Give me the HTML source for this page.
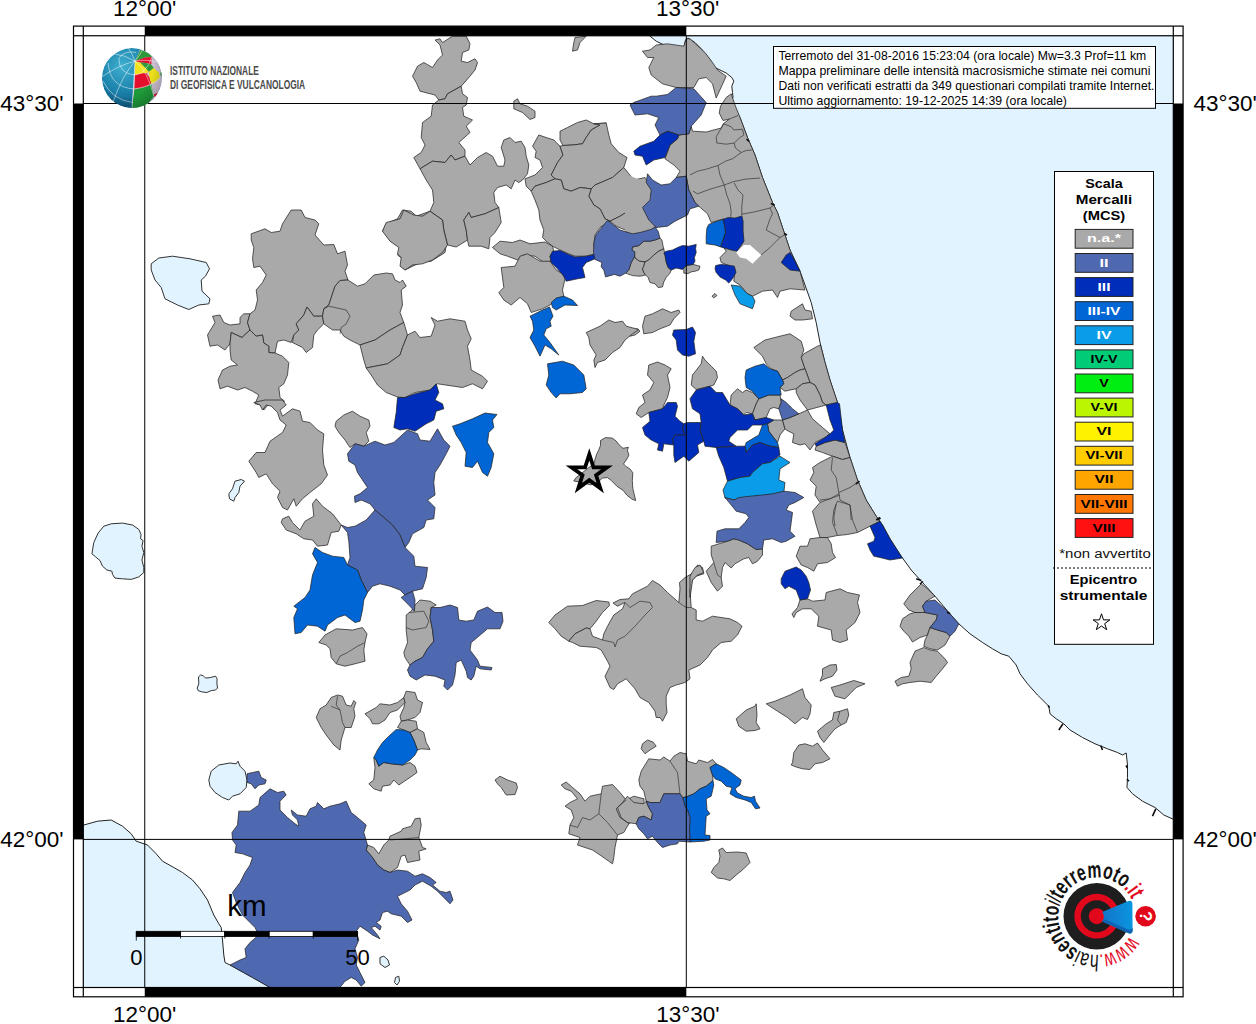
<!DOCTYPE html>
<html><head><meta charset="utf-8"><title>Mappa</title>
<style>
html,body{margin:0;padding:0;background:#fff;}
body{width:1256px;height:1024px;overflow:hidden;font-family:"Liberation Sans",sans-serif;}
svg{display:block;}
.m polygon,.m path{stroke:#262626;stroke-width:0.75;stroke-linejoin:round;}
.m polyline{fill:none;stroke:#333;stroke-width:0.7;}
text{font-family:"Liberation Sans",sans-serif;}
</style></head><body>
<svg width="1256" height="1024" viewBox="0 0 1256 1024">
<defs><clipPath id="mapclip"><rect x="83.3" y="35.75" width="1090" height="951.75"/></clipPath></defs>
<rect width="1256" height="1024" fill="#fff"/>

<g class="m" clip-path="url(#mapclip)">
<polygon fill="#e0f3ff" style="stroke:#222;stroke-width:1" points="649.2,35.5 656.2,41.2 665,45.5 673.8,48.5 681.2,49.5 684.2,46.2 685.5,40 688,38 695,42.5 701.2,48.8 706.2,55 711.2,61.2 713.8,67 720,70 726.2,73 731.8,77.5 733.8,81.2 731.8,86.2 732.5,92.5 733,97.5 731.8,99.5 735,107.5 740,117.5 747.5,137.5 755,155 762.5,177.5 772.5,202.5 777.5,212.5 782.5,227.5 790,250 800,271.2 805,285 811.2,302.5 816.2,322.5 820,342.5 825,362.5 830,380 837.5,402.5 842.5,430 850,457.5 857.5,480 866.2,500 876.2,516.2 876.2,516.2 882.5,525 890,538.8 901.2,556.2 911.2,570 922.5,582.5 935,596.2 948.8,612.5 958.8,623.8 970,633.8 982.5,642.5 992.5,648.8 1001.2,653.8 1008.8,656.2 1016.2,665 1020,673.8 1027.5,683.8 1037.5,695 1048.8,706.2 1050,713.8 1056.2,718.8 1063.8,723.8 1070,730 1082.5,737.5 1095,743.8 1107.5,748.8 1117.5,752.5 1122.5,755 1126.2,753 1127.5,765 1127.5,777.5 1127,787.5 1132.5,793.8 1142.5,801.2 1155,807.5 1163.8,815 1173.8,819.5 1177.5,821.2 1180,821.2 1180,30 649.2,30"/>
<polygon fill="#e0f3ff" style="stroke:#222;stroke-width:1" points="80,825 83.8,825 97.5,821.2 111.2,820 122.5,826.2 131.2,833.8 136.2,841.2 147.5,845 156.2,853.8 162.5,861.2 173.8,867.5 182.5,872.5 192.5,880 200,888.8 207.5,900 213.8,915 218.8,923.8 221.2,927.5 222.5,940 223.8,955 225,962.5 230,965 252.5,977.5 272.5,988.8 80,988.8"/>
<polygon fill="#e0f3ff" style="stroke:#333;stroke-width:1" points="151.2,263.8 158.8,258 172.5,256.2 190,258.8 206.2,262.5 209.5,268.8 205.5,276.2 201.2,280 202,291.2 210,298.8 208.8,303.8 198.8,305 188.8,309.5 177.5,305 165,298.8 161.2,287.5 155,280 151.2,270"/>
<polygon fill="#e0f3ff" style="stroke:#333;stroke-width:1" points="235,481.2 241.2,479.5 244.5,481.2 240,486.2 238.8,492.5 235,497.5 233.8,501.2 229.5,498.8 228.8,493.8 232.5,488.8"/>
<polygon fill="#e0f3ff" style="stroke:#333;stroke-width:1" points="208.8,780 211.2,771.2 218.8,765 230,763 236.2,763.8 238,761.2 240,766.2 245,771.2 247,780 246.2,787.5 240,793.8 232.5,796.2 228.8,800 222.5,797.5 215,792.5 210,786.2"/>
<polygon fill="#e0f3ff" style="stroke:#333;stroke-width:1" points="380,957.5 383.8,956.2 388,960 389.5,965 385,967.5 380,963.8"/>
<polygon fill="#e0f3ff" style="stroke:#333;stroke-width:1" points="395.5,977.5 398.8,976.2 399.5,981.2 397,985 394.5,982.5"/>
<polygon fill="#e0f3ff" style="stroke:#333;stroke-width:1" points="91.9,553.8 93.8,542.5 98.1,533.1 103.8,526.2 111.2,523.8 122.5,523.1 132.5,525 138.8,529.4 141,534.4 140.6,538.8 143.1,540.6 141.9,546.2 143.8,552.5 141.9,560 143.8,567.5 143.8,572.5 138.8,576.9 131.2,579.4 122.5,578.8 115,578.1 112.5,574.4 111.9,571.2 106.9,570 102.5,566.2 100,560.6 95.6,556.9"/>
<polygon fill="#e0f3ff" style="stroke:#333;stroke-width:1" points="198.5,676.9 200.6,675 203.1,675.6 205.6,678.1 210.6,677.5 215.6,676.2 217.1,678.8 216.9,683.1 217.5,688.1 215.6,690 211.2,690.6 206.9,692.5 201.9,691.9 198.1,690.6 197.2,688.1 198.8,683.8"/>
<polygon fill="#a9a9a9" points="212.5,316.2 220,315 223.8,322.5 230,325 240,323.8 240,317.5 243.8,313.8 250,313.8 247.5,322.5 250,330 242,337.5 231.2,332.5 230,343.8 225,350 217.5,345 210,346.2 207.5,335 215,322.5"/>
<polygon fill="#a9a9a9" points="251.2,233.8 265,228.8 271.2,232.5 280,231.2 282.5,223.8 291.2,210 301.2,210 305,217.5 315,220 318.8,223.8 315,235 323.8,245 333.8,244.5 337.5,253.8 345,251.2 347.5,265 345,271.2 348,280 340,280.5 335,286.2 328.8,305 323.8,308.8 322.5,316.2 313.8,316.2 307,307 303.8,315 296.2,323.8 298.8,330 293.8,335 291.2,342.5 283.8,340 277.5,341.2 275,353 268.8,352.5 268.8,346.2 263.8,343 262.5,335 256.2,336.2 250,330 247.5,322.5 250,313.8 255,310 257.5,300 256.2,290 262.5,282.5 266.2,275 260,266.2 253.8,267.5 252.5,258.8 253.8,247.5 251.2,240"/>
<polygon fill="#a9a9a9" points="307,307 313.8,316.2 322.5,316.2 323.8,323.8 317.5,330 313.8,335 312.5,347.5 306.2,352.5 302.5,347.5 292.5,342.5 293.8,335 298.8,330 296.2,323.8 303.8,315"/>
<polygon fill="#a9a9a9" points="231.2,332.5 242,337.5 250,330 256.2,336.2 262.5,335 263.8,343 268.8,346.2 268.8,352.5 275,353 282.5,356.2 288.8,362.5 287.5,375 283.8,383.8 278.8,387.5 280,397.5 284.5,401.2 278.8,405 270,402.5 263.8,410 261.2,405 255,403.8 258.8,395 252.5,391.2 245,387.5 237.5,390 227.5,386.2 220,388.8 218,380 222.5,370 230,366.2 237.5,365 231.2,360 230,350 230,343.8"/>
<polygon fill="#a9a9a9" points="348,280 357.5,286.2 365,283.8 373.8,275 386.2,273 392.5,273.8 395,280 400,282.5 402.5,280 406.2,286.2 401.2,290 402.5,305 400,312.5 403.8,322.5 390,330 375,340 360,345 350,340 343.8,336.2 340,330 332.5,330 323.8,323.8 322.5,316.2 323.8,308.8 328.8,305 335,286.2 340,280.5"/>
<polygon fill="#a9a9a9" points="403.8,322.5 407.5,335 402.5,347.5 400,355 387.5,363.8 366.2,368 363.8,360 360,345 375,340 390,330"/>
<polygon fill="#a9a9a9" points="382.5,231.2 386.2,223.8 397.5,218.8 402.5,210 411.2,211.2 416.2,216.2 430,211.2 442.5,220 446.2,235 446.2,245 445,252.5 431.2,261.2 420,262.5 405,270 401.2,266.2 402.5,258.8 397.5,255 401.2,248.8 393.8,240 390,235"/>
<polygon fill="#a9a9a9" points="435,40 440,38.8 442.5,42.5 452.5,36.2 466.2,36.2 470,43.8 468.8,50 462.5,52.5 461.2,61.2 467.5,62.5 475,58.8 477.5,62.5 475,70 470,76.2 461.2,86.2 447.5,93.8 445,98.8 438.8,100 435,95 420,91.2 416.2,82.5 412.5,76.2 417.5,66.2 423.8,62.5 432.5,67.5 437.5,60 442.5,55 440,45"/>
<polygon fill="#a9a9a9" points="461.2,86.2 462.5,93.8 467.5,97.5 466.2,105 462.5,107.5 463.8,116.2 472.5,120 466.2,126.2 470,132.5 458.8,142.5 465,150 465,156.2 455,160 451.2,155 445,162.5 432.5,161.2 420,168.8 413.8,157.5 421.2,152.5 425,145 421.2,137.5 422.5,122.5 431.2,116.2 432.5,105 438.8,100 445,98.8 447.5,93.8"/>
<polygon fill="#a9a9a9" points="420,168.8 432.5,161.2 445,162.5 451.2,155 455,160 465,156.2 470,165 477.5,157.5 486.2,152.5 492.5,156.2 497.5,166.2 503.8,166.2 505,160 501.2,147.5 503.8,140 510,137.5 515,142.5 521.2,141.2 525,147.5 526.2,156.2 528.8,165 527.5,173.8 522.5,180 518.8,182.5 515,180 511.2,188.8 506.2,185 497.5,187.5 493.8,192.5 495,202.5 498.8,207.5 485,213.8 471.2,217.5 468.8,212.5 463.8,220 466.2,230 467.5,240 456.2,247 447.5,245 443.8,230 442.5,220 430,211.2 433.8,202.5 432.5,190 426.2,180"/>
<polygon fill="#a9a9a9" points="498.8,207.5 501.2,222.5 495,232.5 490,237.5 488.8,248.8 481.2,246.2 468.8,246.2 467.5,240 466.2,230 463.8,220 468.8,212.5 471.2,217.5 485,213.8"/>
<polygon fill="#a9a9a9" points="430,211.2 442.5,220 443.8,230 447.5,245 442.5,252.5 432.5,260 422.5,263.8 412.5,265 405,270 400,266.2 401.2,257.5 397.5,253.8 398.8,247.5 390,241.2 382.5,231.2 386.2,222.5 400,218.8 403.8,210 413.8,215 422.5,216.2"/>
<polygon fill="#a9a9a9" points="513.8,101.2 517.5,98.8 520,103.8 527.5,106.2 535,111.2 535,117.5 530,119.5 522.5,112.5 513.8,108.8"/>
<polygon fill="#a9a9a9" points="575,37.5 586.2,36.2 580,42.5 577.5,50 572.5,51.2 573.8,42.5"/>
<polygon fill="#a9a9a9" points="532.5,146.2 538.8,135 546.2,137.5 553.8,140 560,146.2 563,155 557.5,162.5 551.2,175 555,178.8 546.2,182.5 535,186.2 531.2,191.2 526.2,186.2 525,178.8 535,175 542.5,167.5 540,160 535,157.5 536.2,151.2"/>
<polygon fill="#a9a9a9" points="560,131.2 567.5,127.5 577.5,122.5 586.2,120 593.8,123.8 606.2,123 600,125 591.2,130 586.2,137.5 582.5,143.8 572.5,145 563,145.5 560,140"/>
<polygon fill="#a9a9a9" points="593.8,123.8 606.2,123 608.8,135 611.2,143.8 618.8,152.5 627,157.5 623.8,167.5 612.5,177.5 595,185 591.2,188.8 580,187.5 571.2,191.2 563.8,188.8 561.2,180 555,178.8 551.2,175 557.5,162.5 563,155 560,146.2 563,145.5 572.5,145 582.5,143.8 586.2,137.5 591.2,130 600,125"/>
<polygon fill="#a9a9a9" points="623.8,167.5 633.8,180 645,177.5 650,185 651.2,193.8 643.8,203.8 630,210 620,216.2 610,221.2 605,218.8 600,208.8 593.8,205 588.8,196.2 591.2,188.8 595,185 612.5,177.5"/>
<polygon fill="#a9a9a9" points="643.8,203.8 651.2,221.2 656.2,227.5 647.5,231.2 635,233.8 625,230 616.2,226.2 610,221.2 620,216.2 630,210"/>
<polygon fill="#a9a9a9" points="555,178.8 561.2,180 563.8,188.8 571.2,191.2 580,187.5 591.2,188.8 588.8,196.2 593.8,205 600,208.8 605,218.8 610,221.2 600,227.5 595,235 593.8,245 595,253.8 586.2,256.2 575,256.2 568.8,253.8 560,250 552.5,246.2 546.2,241.2 542.5,237.5 543.8,230 540,220 538.8,210 535,200 531.2,191.2 535,186.2 546.2,182.5"/>
<polygon fill="#a9a9a9" points="492.5,247.5 500,241.2 512.5,242.5 520,240 530,243.8 545,242 552.5,246.2 553.8,251.2 550,256.2 551.2,261.2 543.8,262.5 535,256.2 523.8,255 517.5,260 507.5,256.2 500,253.8"/>
<polygon fill="#a9a9a9" points="642.5,51.2 650,50 656.2,45 667.5,43.8 683.8,46.2 686.2,38.8 690,38.8 705,52.5 712.5,62.5 717.5,70 726.2,76.2 716.2,98 712.5,83.8 706.2,77.5 698.8,78.8 693.8,87.5 676.2,87.5 662.5,83.8 651.2,75 648.8,67.5 653.8,57.5 647.5,57.5"/>
<polygon fill="#a9a9a9" points="731.2,93.8 735,105 740,117.5 747.5,137.5 755,155 762.5,177.5 772.5,202.5 777.5,212.5 782.5,227.5 790,250 800,271.2 805,290 790,288.8 780,291.2 777.5,297.5 772.5,290 762.5,291.2 752.5,296.2 747.5,293.8 740,285 733.8,281.2 735,270 730,266.2 721.2,262.5 720,257.5 726.2,251.2 721.2,243.8 723.8,218.8 711.2,222.5 707.5,213.8 698.8,206.2 695,202.5 688.8,190 686.2,176.2 676.2,177.5 680,171.2 673.8,165 665,158.8 670,145 677.5,138.8 678.8,135 688.8,133.8 691.2,126.2 692.5,131.2 706.2,132 721.2,128 723.2,123.8 729.5,119 723,120.5 719.2,113 720.5,106.2 726.2,97.5"/>
<polygon fill="#a9a9a9" style="stroke:none" points="625,173.8 646.2,182.5 651.2,190 650,200 642.5,207.5 648.8,220 656.2,227.5 653.8,227.5 645,233.8 625,235"/>
<polygon fill="#a9a9a9" points="645,316.2 652.5,313.8 662.5,308.8 671.2,312.5 678.8,310 680,312.5 673.8,318.8 670,325 660,328.8 652.5,332.5 643.8,333.8 642.5,326.2"/>
<polygon fill="#a9a9a9" points="630,330 637.5,328.8 640,331.2 635,335 630,336.2"/>
<polygon fill="#a9a9a9" points="791.2,311.2 802.5,303.8 805,310 811.2,311.2 812.5,318.8 802.5,320 795,320 790,316.2"/>
<polygon fill="#a9a9a9" points="753.8,347.5 765,340 780,336.2 790,333.8 801.2,341.2 803.8,350 801.2,357.5 805,368.8 800,370 795,372.5 787.5,377.5 782.5,380 777.5,371.2 771.2,368.8 766.2,363.8 762.5,356.2"/>
<polygon fill="#a9a9a9" points="803.8,353.8 817.5,346.2 820.5,345 825,362.5 830,380 837.5,402.5 826.2,405 822.5,402.5 820,395 815,385 810,382.5 805,368.8 801.2,357.5"/>
<polygon fill="#a9a9a9" points="782.5,380 787.5,377.5 795,372.5 800,370 805,368.8 810,382.5 802.5,383.8 796.2,388.8 790,390 785,391.2 780,387.5 783.8,383.8"/>
<polygon fill="#a9a9a9" points="802.5,383.8 810,382.5 815,385 820,395 822.5,402.5 826.2,405 807.5,410 800,400 796.2,392.5 796.2,388.8"/>
<polygon fill="#a9a9a9" points="731.2,395 737.5,388.8 742.5,392.5 746.2,390 752.5,392.5 758.8,398.8 756.2,403.8 752.5,413.8 746.2,412.5 743.8,415 737.5,408.8 730,405"/>
<polygon fill="#a9a9a9" points="758.8,398.8 768.8,395 780,395 781.2,402.5 778.8,408.8 773.8,407.5 770,408.8 766.2,417.5 755,420 752.5,413.8 756.2,403.8"/>
<polygon fill="#a9a9a9" points="767.5,423.8 773.8,420 782.5,420 785,428.8 780,435 777.5,442.5 772.5,436.2 768.8,431.2"/>
<polygon fill="#a9a9a9" points="782.5,420 790,417.5 798.8,413.8 807.5,410 812.5,418.8 822.5,427.5 830,433.8 825,437.5 815,442.5 810,450 805,443.8 800,445 792.5,442.5 793.8,433.8 786.2,430 785,428.8"/>
<polygon fill="#a9a9a9" points="816.2,446.2 825,442.5 835,440 845,442.5 850,457.5 842.5,459.5 832.5,456.2 822.5,452.5 815,450"/>
<polygon fill="#a9a9a9" points="812.5,467.5 820,462.5 832.5,456.2 842.5,459.5 850,457.5 857.5,480 866.2,500 876.2,516.2 880,521.2 870,526.2 857.5,532.5 847.5,534.5 837.5,535.5 827.5,537.5 820,537.5 816.2,525 812.5,511.2 820,502.5 815,495 816.2,486.2 810,480 813.8,472.5"/>
<polygon fill="#a9a9a9" points="692.5,375 701.2,363.8 702.5,356.2 705,360 711.2,366.2 716.2,371.2 717.5,377.5 713.8,385 710,386.2 696.2,389.5 691.2,385"/>
<polygon fill="#a9a9a9" points="648.8,365 657.5,362 665,365 671.2,368.8 667.5,375 670,387.5 667.5,397.5 663.8,405 662.5,408.8 648.8,412.5 641.2,417.5 636.2,413.8 638.8,407.5 645,402.5 642.5,395 650,390 653.8,382.5 647.5,375"/>
<polygon fill="#a9a9a9" points="501.2,267.5 515,266.2 520,256.2 527.5,253.8 540,261.2 550,261.2 556.2,270 562.5,273.8 565,278.8 562.5,290 563.8,296.2 555,300 550,305 542.5,308.8 531.2,312.5 527.5,303.8 520,297.5 511.2,305 503.8,300 498.8,292.5 503.8,287.5"/>
<polygon fill="#a9a9a9" points="586.2,332.5 600,326.2 608.8,320 615,322.5 622.5,321.2 626.2,326.2 638.8,329.5 632.5,333.8 625,340 620,347.5 612.5,352.5 605,360 597.5,362.5 595,367.5 593.8,360 596.2,355 590,345 588.8,337.5"/>
<polygon fill="#a9a9a9" points="366.2,368 387.5,363.8 400,355 402.5,347.5 407.5,335 415,331.2 420,337.5 431.2,336.2 435,325 431.2,317.5 437.5,321.2 450,318.8 465,321.2 467.5,330 471.2,338.8 467.5,346.2 470,360 471.2,370 482.5,376.2 487.5,381.2 482.5,388.8 472.5,383.8 462.5,387.5 453.8,386.2 437.5,383.8 430,390 415,392.5 405,397.5 397.5,397 386.2,392.5 377.5,385 371.2,375"/>
<polygon fill="#a9a9a9" points="253.8,402.5 265,400 282.5,400 286.2,405 280,410 282.5,416.2 292.5,408.8 300,411.2 302.5,421.2 310,422.5 317.5,430 323.8,433.8 322.5,450 323.8,465 327.5,475 321.2,483.8 310,492.5 302.5,498.8 296.2,506.2 293.8,498.8 287.5,510 282.5,507.5 277.5,497.5 280,491.2 272.5,483.8 266.2,473.8 258.8,477.5 256.2,472.5 248.8,461.2 256.2,452.5 265,452.5 270,441.2 282.5,432.5 286.2,425 280,420 277.5,412.5 271.2,406.2 266.2,405 262.5,410 260,405"/>
<polygon fill="#a9a9a9" points="336.2,421.2 343.8,415 352.5,411.2 360,416.2 368.8,420 370,426.2 366.2,432.5 368.8,441.2 363.8,446.2 355,443.8 350,447.5 345,440 338.8,432.5 335,426.2"/>
<polygon fill="#a9a9a9" points="282.5,518.8 288.8,516.2 292.5,522.5 300,530 305,521.2 313.8,516.2 312.5,503.8 316.2,498.8 322.5,506.2 332.5,513.8 341.2,525 338.8,531.2 331.2,532.5 327.5,545 317.5,546.2 312.5,540 303.8,538.8 296.2,533.8 286.2,530 281.2,522.5"/>
<polygon fill="#a9a9a9" points="318.8,642.5 325,635 336.2,628.8 352.5,630 362.5,627.5 367,633.8 365,642.5 363.8,650 365,661.2 355,663.8 345,666.2 336.2,663.8 331.2,657.5 330,648.8 326.2,645"/>
<polygon fill="#a9a9a9" points="415,605 420,600 430,601.2 436.2,605 431.2,607.5 430,617.5 432.5,630 433.8,641.2 427.5,648.8 422.5,657.5 415,661.2 410,665 405,657.5 403.8,652.5 407.5,642.5 406.2,630 406.2,615 411.2,611.2"/>
<polygon fill="#a9a9a9" points="326.2,705 331.2,697.5 337.5,695 342.5,696.2 346.2,705 351.2,706.2 353.8,700.5 355.8,702.5 353.8,708.8 355,716.2 351.2,727.5 345,727.5 341.2,740 340,750 333.8,745 326.2,735 321.2,727.5 316.2,717.5 320,708.8"/>
<polygon fill="#a9a9a9" points="365,713.8 376.2,707.5 380,703.8 390,705 397.5,702.5 403.8,697.5 405,702.5 397.5,710 390,712.5 385,720 378.8,723.8 372.5,723.8 370,718.8"/>
<polygon fill="#a9a9a9" points="406.2,691.2 415,692.5 417.5,700 422.5,702.5 420,712.5 415,717.5 407.5,720 401.2,721.2 400,716.2 403.8,707.5 405,702.5 403.8,697.5"/>
<polygon fill="#a9a9a9" points="401.2,721.2 407.5,720 416.2,721.2 417.5,728.8 410,732.5 403.8,730 397.5,727.5"/>
<polygon fill="#a9a9a9" points="410,732.5 417.5,728.8 423.8,732.5 426.2,742.5 430,749.5 421.2,748.8 417.5,750 413.8,740"/>
<polygon fill="#a9a9a9" points="373.8,757.5 376.2,760 378.8,766.2 383.8,762.5 391.2,763.8 402.5,765 410,762.5 415,766.2 417,772.5 410,777.5 398.8,785 393.8,780 390,785 382.5,786.2 381.2,791.2 373.8,788.8 368.8,783.8 373.8,780 375,767.5"/>
<polygon fill="#a9a9a9" points="495,780 500,776.2 507.5,780 516.2,783 517.5,787.5 515,794.5 506.2,795 501.2,787.5 497.5,783.8"/>
<polygon fill="#a9a9a9" points="548.8,622.5 555,615 567.5,606.2 582.5,605.5 596.2,600.5 608.8,602 609.5,605.5 602.5,612.5 596.2,621.2 590,628.8 586.2,628 575,633.8 568.8,641.2 561.2,636.2 555,628.8"/>
<polygon fill="#a9a9a9" points="568.8,641.2 575,633.8 586.2,628 590,628.8 592.5,636.2 602.5,640 603.8,633.8 607.5,626.2 613.8,615 622.5,608.8 625,602.5 617.5,606.2 613,603 620,599.5 628.8,598.8 632.5,593.8 647.5,586.2 652.5,580.5 660,585 667.5,592.5 678.8,602.5 680,588.8 679.5,582.5 685,577.5 693.8,572.5 697.5,565 702.5,567.5 703.8,573.8 696.2,576.2 692.5,580 690,590 691.2,607.5 696.2,610 696.2,620 702.5,621.2 712.5,616.2 730,618.8 737.5,622.5 742,626.2 737.5,635 731.2,641.2 721.2,642.5 712.5,650 707.5,657.5 700,665 688.8,670 690,678.8 685,682.5 676.2,685 670,687.5 666.2,696.2 666.2,703.8 667,712.5 662.5,721.2 660,717.5 656.2,717.5 655,711.2 648.8,702.5 640,697.5 635,688.8 626.2,678.8 617.5,683.8 613.8,689.5 610,687.5 605,676.2 610,666.2 607.5,661.2 601.2,650 596.2,647.5 580,646.2 572.5,642.5"/>
<polygon fill="#a9a9a9" points="642.5,743.8 647.5,740 653,742 656.2,746.2 650,750 645,753.8 641.2,748.8"/>
<polygon fill="#a9a9a9" points="810,538.8 820,537.5 827.5,537.5 831.2,543.8 832.5,552.5 835.5,557.5 827.5,562.5 817.5,563.8 813.8,571.2 807.5,567.5 801.2,565 796.2,556.2 800,546.2 807.5,546.2"/>
<polygon fill="#a9a9a9" points="800,600 807.5,598.8 812.5,601.2 825,600 826.2,592.5 840,588.8 847.5,592.5 859.5,595 857.5,602.5 860,612.5 855,622.5 846.2,630 847.5,640 840,642.5 832.5,640 831.2,630 817.5,626.2 818.8,616.2 811.2,608.8 802.5,608.8 796.2,612.5 793.8,617.5 792,613.8 797.5,607.5"/>
<polygon fill="#a9a9a9" points="903.8,603.8 910,595 921.2,583.8 927.5,588.8 935,596.2 926.2,601.2 922.5,606.2 925,612.5 915,612.5 908.8,610"/>
<polygon fill="#a9a9a9" points="900,626.2 902.5,618.8 910,613.8 915,612.5 925,612.5 937.5,615 936.2,620 930,627.5 927.5,635 920,637.5 912.5,642 908.8,636.2 903.8,631.2"/>
<polygon fill="#a9a9a9" points="930,627.5 937.5,630 946.2,632.5 950,636.2 945,645 937.5,650 930,648.8 923.8,646.2 925,640 927.5,635"/>
<polygon fill="#a9a9a9" points="915,651.2 923.8,647.5 930,650 937.5,651.2 945,658.8 947.5,662.5 942.5,668.8 936.2,676.2 931.2,682.5 920,681.2 910,682.5 902.5,683.8 897.5,686.2 895,681.2 901.2,677.5 908.8,676.2 911.2,668.8 910,662.5"/>
<polygon fill="#a9a9a9" points="711.2,546.2 727.5,541.2 733.8,538.8 738.8,540 747.5,543.8 756.2,549.5 762.5,548.8 762.5,555 757.5,561.2 752.5,563.8 748.8,557.5 743.8,558.8 735,563.8 731.2,568 725,562.5 722.5,567.5 721.2,577.5 722.5,586.2 717.5,591.2 711.2,582.5 706.2,571.2 713.8,562.5 711.2,555"/>
<polygon fill="#a9a9a9" points="690,576.2 695,567.5 700,565 703.8,572.5 697.5,575 692.5,580 691.2,590 690,597.5"/>
<polygon fill="#a9a9a9" points="822.5,668.8 830,665 836.2,664.5 837,670 832.5,676.2 825,678.8 820,681.2 822.5,675"/>
<polygon fill="#a9a9a9" points="831.2,687.5 840,685 853.8,680.5 865,683.8 856.2,687.5 850,693.8 845,698.8 835,696.2"/>
<polygon fill="#a9a9a9" points="766.2,703.8 775,701.2 790,695 802.5,688.8 805,697.5 811.2,705 810,713.8 807.5,719.5 802.5,717.5 795,723.8 787.5,717.5 777.5,711.2"/>
<polygon fill="#a9a9a9" points="736.2,718.8 746.2,710 755,706.2 756.2,703.8 757,715 756.2,722.5 760,728.8 755,730.5 746.2,731.2 738.8,726.2"/>
<polygon fill="#a9a9a9" points="817.5,731.2 826.2,723.8 832.5,720 833.8,712.5 840,711.2 847.5,708.8 848.8,715 846.2,722.5 841.2,725 835,728.8 828.8,736.2 823.8,742.5 820,737.5"/>
<polygon fill="#a9a9a9" points="367.5,845 373.8,847.5 378.8,853.8 383.8,845 388.8,840 390,836.2 401.2,831.2 402.5,828.8 411.2,826.2 415,818.8 420,818 421.2,825 418.8,837.5 422.5,847.5 426.2,848.8 418.8,851.2 420,860 407.5,862.5 405,855 401.2,856.2 397.5,867.5 390,872.5 383.8,870 377.5,865 372.5,857.5 366.2,850"/>
<polygon fill="#a9a9a9" points="561.2,785 566.2,782 572.5,787.5 580,793.8 585,801.2 590,796.2 601.2,793.8 602.5,786.2 612.5,784.5 620,792.5 626.2,800 633.8,796.2 644,798.8 644,822.5 636.2,818.8 628.8,823.8 623.8,832.5 617.5,835 615,847.5 613.8,857.5 612.5,863.8 608.8,861.2 600,855 592.5,850 585,847.5 577.5,845 580,837.5 568.8,833.8 570,825 573.8,817.5 571.2,810 565,806.2 570,802.5 577.5,798.8 571.2,791.2 565,788.8"/>
<polygon fill="#a9a9a9" points="638.8,780 641.2,771.2 648.8,758.8 660,760 663.8,757 670,761.2 673.8,756.2 680,752.5 686.2,753.8 687.5,761.2 696.2,763.8 698.8,760 707.5,762.5 712.5,759.5 716.2,763.8 710,767.5 712.5,775 713,780.5 706.2,786.2 700,788.8 693.8,793.8 686.2,797 682.5,797.5 680,793.8 663.8,793.8 660,802.5 650,802.5 646.2,801.2 643.8,791.2 640,786.2"/>
<polygon fill="#a9a9a9" points="616.2,808.8 622.5,802.5 627.5,796.2 633.8,802.5 643.8,803.8 646.2,801.2 648.8,807.5 652.5,813.8 651.2,820 643.8,816.2 638.8,817.5 636.2,823.8 627.5,822.5 620,817.5"/>
<polygon fill="#a9a9a9" points="718.8,850 722.5,848 726.2,852.5 737.5,852 746.2,853 750,862.5 743.8,868.8 736.2,875 730,880.5 723.8,878.8 717.5,878 711.2,872.5 713.8,867.5 718.8,862.5 720,856.2"/>
<polygon fill="#a9a9a9" points="792.5,762.5 793.8,752.5 798.8,745 805,743.8 812.5,746.2 817.5,743 822.5,750 830,758.8 822.5,762.5 815,763.8 810,769.5 802.5,768.8 796.2,767 791.2,765"/>
<polygon fill="#a9a9a9" points="631.9,248.8 633.1,246.9 638.8,245.6 643.8,241.2 650,241.2 655,240 660,238.1 661.9,240 663.1,246.2 663.8,248.8 658.8,251.2 653.8,255 648.8,260 645,261.9 639.4,261.2 635,258.1 634.4,252.5 631.9,250"/>
<polygon fill="#a9a9a9" points="634.4,256.9 635,258.1 639.4,261.2 645,261.9 643.8,266.2 642.5,268.8 643.8,272.5 645.6,275 640,276.2 632.5,275.6 625.6,273.1 628.8,270 631.2,262.5"/>
<polygon fill="#a9a9a9" points="658.8,251.2 663.8,248.8 665,255 666.2,261.9 668.1,267.5 671.2,270 670,273.1 666.2,277.5 663.8,281.9 662.5,286.9 658.1,287.5 655,283.8 650,282.5 648.1,277.5 645.6,275 643.8,272.5 642.5,268.8 643.8,266.2 645,261.9 648.8,260 653.8,255"/>
<polygon fill="#a9a9a9" points="683.8,268.1 686.2,265.6 693.1,264.4 697.5,265.6 700,266.2 698.8,270 695,271.2 691.2,271.9 688.1,273.5 683.8,273.1"/>
<polygon fill="#a9a9a9" points="711.9,296.2 715,293.5 716.9,295.6 713.8,297.8"/>
<polygon fill="#a9a9a9" points="600.5,440.5 605.4,437.6 612.3,438.1 616.2,441 619.1,444.9 623,448.3 628.4,447.3 627.4,450.3 628.9,455.2 626.9,459.1 623.5,463.9 625.9,466.4 629.8,468.8 632.8,472.7 632.3,480.5 632.8,488.4 635.7,500.6 631.8,499.1 626.9,495.2 623,490.3 617.1,486.4 611.3,480.5 607.4,477.6 602.5,478.1 598.6,481.5 590.8,484.9 582,482.5 573.7,481 576.1,477.6 581,473.7 593.7,463.9 596.6,454.2 598.6,450.3 600.5,445.4"/>
<polygon fill="#fff" style="stroke:none" points="743.8,245 750,245 761.2,255 752.5,263.8 746.2,258.8 740,257.5 736.2,252.5"/>
<polygon fill="#002db9" points="397.5,397.5 405,397.5 415,393.8 430,390 436.2,383.8 438.8,392.5 435,400 442.5,403.8 443.8,408.8 436.2,411.2 433.8,420 426.2,423.8 415,431.2 407.5,428.8 400,430 393.8,427.5 396.2,412.5"/>
<polygon fill="#002db9" points="552.5,251.2 560,250.5 568.8,254.5 575,257 586.2,256.2 594.5,254.5 595,258.8 586.2,262.5 582.5,267.5 585,277.5 577.5,278.8 566.2,281.2 563.8,276.2 557.5,268.8 551.2,262.5 550,256.2"/>
<polygon fill="#4f69b1" points="676.2,87.5 693.8,88.8 706.2,102.5 701.2,115 691.2,126.2 688.8,133.8 678.8,135 667.5,131.2 660,135 655,125 658.8,117.5 647.5,113.8 635,115 630,105 633.8,102.5 651.2,96.2 656.2,96.2 667.5,94.5"/>
<polygon fill="#002db9" points="667.5,131.2 678.8,135 677.5,138.8 670,145 665,157.5 653.8,160 646.2,165 642.5,156.2 635,155 633.8,151.2 640,146.2 653.8,141.2 660,135"/>
<polygon fill="#4f69b1" points="647.5,173.8 652.5,180 661.2,185 670,183.8 676.2,177.5 686.2,176.2 688.8,190 695,202.5 698.8,206.2 690,208.8 687.5,215 675,221.2 667.5,226.2 656.2,227.5 648.8,220 642.5,207.5 650,200 651.2,190 646.2,182.5"/>
<polygon fill="#002db9" points="790,252.5 793.8,258.8 800,271.2 790,270 781.2,262.5 786.2,255"/>
<polygon fill="#0a9ce8" points="731.2,285 740,286.2 747.5,293.8 752.5,296.2 755,301.2 752.5,308.8 740,303.8 735,295"/>
<polygon fill="#002db9" points="673.8,330 686.2,329.5 692.5,327 695.5,332.5 693.8,341.2 695.5,353.8 688.8,356.2 682.5,355 677.5,350 676.2,340 672.5,335"/>
<polygon fill="#0066d5" points="746.2,370 755,366.2 763.8,363.8 770,368.8 777.5,371.2 782.5,380 783.8,383.8 780,387.5 781.2,395 768.8,395 758.8,398.8 752.5,391.2 746.2,387.5 745,377.5"/>
<polygon fill="#4f69b1" points="781.2,398.8 786.2,402.5 792.5,408.8 798.8,413.8 790,417.5 782.5,420 778.8,408.8 781.2,402.5"/>
<polygon fill="#002db9" points="826.2,405 837.5,402.5 839.5,403.8 842.5,430 845,442.5 835,440 825,442.5 816.2,446.2 815,443.8 825,437.5 830,433.8 833.8,430 830,420"/>
<polygon fill="#002db9" points="642.5,427.5 650,421.2 648.8,412.5 662.5,408.8 667.5,402.5 676.2,402.5 677.5,406.2 675,416.2 680,421.2 683.8,423.8 682.5,428.8 685,435 675,435 672.5,438.8 673.8,445 663.8,443.8 662.5,451.2 657.5,450 658.8,443.8 651.2,440 645,435"/>
<polygon fill="#002db9" points="675,435 685,435 682.5,428.8 683.8,423.8 687.5,422.5 701.2,422.5 700,430 703.8,441.2 697.5,445 698.8,452.5 688.8,461.2 683.8,456.2 675,462.5 673.8,455 673.8,445 672.5,438.8"/>
<polygon fill="#002db9" points="690,398.8 696.2,390 710,386.2 716.2,392.5 722.5,392.5 730,405 737.5,408.8 743.8,415 752.5,413.8 755,420 766.2,417.5 773.8,420 767.5,423.8 762.5,425 752.5,425 747.5,430 737.5,430 730,437.5 728.8,441.2 736.2,446.2 716.2,447.5 705,446.2 703.8,441.2 700,430 701.2,422.5 700,413.8 692.5,408.8 691.2,403.8"/>
<polygon fill="#0066d5" points="762.5,425 767.5,423.8 768.8,431.2 772.5,436.2 777.5,442.5 778.8,447.5 770,446.2 760,442.5 752.5,445 746.2,452.5 745,446.2 746.2,442.5 758.8,435"/>
<polygon fill="#002db9" points="716.2,447.5 736.2,446.2 740,446.2 745,446.2 746.2,452.5 752.5,445 760,442.5 770,446.2 778.8,447.5 780,455 770,462.5 762.5,463.8 752.5,472.5 750,476.2 740,477.5 727.5,481.2 723.8,467.5 718.8,456.2"/>
<polygon fill="#0a9ce8" points="727.5,481.2 740,477.5 750,476.2 752.5,472.5 762.5,463.8 770,462.5 780,456.2 790,462.5 780,468.8 778.8,480 785,482.5 783.8,492.5 775,494.5 765,495.8 752.5,498 742.5,498 737.5,500.5 725,498 723,490"/>
<polygon fill="#0066d5" points="551.2,302.5 556.2,298 563.8,296.2 572.5,300 577.5,305.5 565,305 556.2,310 552.5,307.5"/>
<polygon fill="#0066d5" points="530,316.2 542.5,310 549.5,307 553,316.2 550,321.2 551.2,326.2 546.2,328.8 543.8,335 550,342.5 558.8,355 551.2,348.8 545,345 540,356.2 535,346.2 530,337.5 533.8,330 532.5,321.2"/>
<polygon fill="#0066d5" points="547.5,363.8 562.5,361.2 573.8,365 583.8,375 586.2,388.8 582.5,392.5 570,393.8 560,393.8 556.2,398 551.2,392.5 546.2,385 548.8,375"/>
<polygon fill="#0066d5" points="452.5,426.2 460,423.8 472.5,418.8 485,413 497,414.5 492.5,420 493.8,427.5 488.8,432.5 487.5,442.5 493.8,453.8 491.2,467.5 487.5,476.2 482.5,472.5 477.5,461.2 472.5,467.5 465,466.2 466.2,452.5 461.2,442.5 456.2,435"/>
<polygon fill="#4f69b1" points="347.5,453.8 355,443.8 363.8,446.2 375,441.2 385,445 393.8,442.5 407.5,430 417.5,433.8 420,440 430,441.2 437.5,428.8 443.8,440 450,446.2 446.2,453.8 440,465 435,472.5 433.8,482.5 435,495 427.5,500 435,507.5 433.8,518.8 426.2,520 423.8,527.5 412.5,533.8 408.8,542.5 405,547.5 400,535 392.5,525 383.8,517.5 375,510 370,503.8 361.2,500 355,502.5 354.5,496.2 360,493.8 367.5,487.5 362.5,480 357.5,472.5 355,465 348.8,461.2"/>
<polygon fill="#4f69b1" points="341.2,525 347.5,527.5 355,526.2 366.2,520 375,510 383.8,517.5 392.5,525 400,535 405,547.5 413.8,556.2 415,566.2 427.5,567.5 426.2,577.5 422.5,588.8 412.5,591.2 405,595 400,590 390,586.2 380,583.8 372.5,586.2 367.5,592.5 361.2,580 357.5,570 347.5,565 350,557.5 348.8,541.2 347.5,532.5"/>
<polygon fill="#4f69b1" points="405,595 412.5,591.2 415,600 414.5,611.2 408.8,605 401.2,597.5"/>
<polygon fill="#0066d5" points="315,547.5 322.5,552.5 332.5,556.2 343.8,557.5 347.5,565 357.5,570 361.2,580 367.5,592.5 363.8,600 362.5,610 360,621.2 355,622.5 345,615 337.5,617.5 327.5,625 325,631.2 317.5,626.2 307.5,625 301.2,632.5 295,633.8 293.8,617.5 297.5,608.8 293.8,606.2 305,597.5 310,590 312.5,575 317.5,562.5 312.5,553.8"/>
<polygon fill="#4f69b1" points="431.2,607.5 440,607.5 450,605 457.5,607.5 458.8,620 466.2,621.2 473.8,620 477.5,611.2 487.5,607 495,612.5 502,612.5 503,621.2 500,628.8 487.5,628.8 478.8,636.2 471.2,642.5 470,650 477.5,660 480,666.2 492,667.5 491.2,670 480,668.8 476.2,666.2 473.8,676.2 471.2,680 467.5,677.5 466.2,671.2 461.2,660 456.2,662.5 455,675 452.5,685 447.5,690 443.8,686.2 445,680 435,676.2 425,675 416.2,680 410,676.2 407.5,670 410,665 415,661.2 422.5,657.5 427.5,648.8 433.8,641.2 432.5,630 430,617.5"/>
<polygon fill="#0066d5" points="396.2,729.5 403.8,730 410,732.5 413.8,740 417.5,750 415,755 410,760 402.5,765 391.2,763.8 383.8,762.5 378.8,766.2 376.2,760 373.8,757.5 377.5,750 382.5,742.5 388.8,736.2"/>
<polygon fill="#4f69b1" points="725,497.5 733.8,500 738.8,497.5 750,496.2 762.5,495 772.5,493.8 783.8,491.2 795,492.5 803.8,497.5 795,502.5 788.8,505 786.2,510 792.5,512.5 791.2,522.5 790,531.2 795,536.2 786.2,541.2 781.2,542.5 772.5,538.8 763.8,540 762.5,548.8 756.2,549.5 747.5,543.8 738.8,540 733.8,538.8 727.5,541.2 716.2,542.5 717,531.2 725,528.8 738.8,528.8 745,522.5 748.8,517.5 746.2,513.8 736.2,511.2 731.2,505"/>
<polygon fill="#002db9" points="870,526.2 880,521.2 882.5,525 890,538.8 901.2,556.2 902.5,558 890,560 880,557.5 873.8,556.2 870,550 867.5,543.8 873.8,541.2 875,537.5"/>
<polygon fill="#002db9" points="781.2,578.8 785,571.2 796.2,567 801.2,570 806.2,576.2 808.8,582.5 810.5,590 807.5,598.8 800,600 796.2,590 788.8,586.2 785,588.8 781.2,583.8"/>
<polygon fill="#4f69b1" points="922.5,606.2 926.2,601.2 935,600 948.8,612.5 958.8,623.8 955,631.2 950,636.2 946.2,632.5 937.5,630 930,627.5 936.2,620 937.5,615 925,612.5"/>
<polygon fill="#4f69b1" points="247,773.8 252.5,772.5 258.8,771.2 261.2,777.5 266.2,780 265,783.8 258.8,785 255,788.8 251.2,783.8 247,782.5"/>
<polygon fill="#4f69b1" points="238.8,811.2 250,811.2 258.8,805 260,797.5 270,788.8 277.5,792.5 283.8,791.2 286.2,795 280,801.2 280,810 287.5,817.5 295,823.8 298.8,826.2 297.5,820 292.5,815 291.2,810 297.5,815 306.2,816.2 310,808.8 316.2,806.2 317.5,802.5 323.8,808.8 330,806.2 340,803.8 346.2,801.2 351.2,812.5 357.5,817.5 366.2,825 363.8,832.5 367.5,845 366.2,850 372.5,857.5 377.5,865 383.8,870 390,872.5 397.5,870 407.5,871.2 415,876.2 422.5,873.8 430,877.5 436.2,882.5 432.5,885 440,891.2 446.2,892.5 450,891.2 453,900 450,903.8 443.8,897.5 437.5,891.2 431.2,886.2 422.5,881.2 415,885 410,890 402.5,893.8 397.5,896.2 401.2,903.8 407.5,911.2 412,920 407.5,922.5 401.2,916.2 396.2,915 391.2,913.8 387.5,911.2 382.5,912.5 380,920 376.2,922.5 381.2,926.2 380,930 375,926.2 371.2,927.5 377.5,935 380,938.8 372.5,935 367.5,931.2 360,926.2 356.2,931.2 358.8,940 355,948.8 357.5,957.5 356.2,965 360,972.5 365,982.5 361.2,986.2 356.2,980 351.2,977.5 345,981.2 338.8,988.8 272.5,988.8 252.5,977.5 230,965 240,960 246.2,957.5 245,948.8 250,942.5 258.8,935 255,927.5 250,922.5 242.5,915 236.2,902.5 232.5,892.5 240,882.5 245,872.5 250,865 252.5,857.5 242.5,853.8 235,852.5 236.2,845 232.5,840 232,832.5 237.5,825"/>
<polygon fill="#0066d5" points="683,797.5 686.2,797 693.8,793.8 700,788.8 706.2,786.2 713,780.5 713.8,785 711.2,796.2 706.2,798.8 707,810 710,813.8 706.2,816.2 705,835 710,835.5 710,840 703.8,841.2 690,842 689.5,830 690,817.5 687.5,810 685,806.2"/>
<polygon fill="#0066d5" points="710,767.5 716.2,763.8 723.8,767.5 731.2,772.5 736.2,776.2 741.2,780 740,785 735,788.8 737.5,793 743.8,796.2 751.2,797.5 754.5,796.2 755.5,801.2 760,808 755.5,808.8 751.2,802.5 745,800 736.2,797.5 730,793.8 732,787.5 726.2,786.2 721.2,781.2 715,778.8 712.5,775"/>
<polygon fill="#4f69b1" points="638.8,817.5 643.8,816.2 651.2,820 652.5,813.8 648.8,807.5 646.2,801.2 650,802.5 660,802.5 663.8,793.8 680,793.8 682.5,797.5 685,806.2 687.5,810 690,817.5 689.5,830 690,842 678.8,841.2 677.5,843.8 670,845 662.5,847.5 657.5,842.5 652.5,836.2 647.5,838.8 643.8,833.8 638.8,828.8 636.2,823.8"/>
<polygon fill="#4f69b1" points="607.5,220.4 620,230 632.5,233.8 640,232.5 651.2,229.4 655,226.9 658.1,231.2 660,238.1 655,240 650,241.2 643.8,241.2 638.8,245.6 632.5,246.9 631.9,250 635,251.9 634.4,256.9 631.2,262.5 628.8,270 625.6,273.1 620,276.2 614.4,274.4 605.6,276.9 603.8,270 601.2,266.9 601.9,262.5 595,259.4 593.5,252.5 594,242.5 595.6,235.6 600.6,228.8"/>
<polygon fill="#002db9" points="663.8,253.1 666.2,251.2 672.5,250 677.5,247.5 682.5,245.6 688.8,246.2 693.8,245 696.2,244.4 695.6,248.8 696.2,252.5 694.4,257.5 695,261.2 693.1,264.4 686.2,265.6 682.5,269.4 676.2,268.1 671.2,270 668.1,267.5 666.2,261.9 665,255"/>
<polygon fill="#0066d5" points="706.9,228.1 708.8,224.4 715,221.9 723.1,219.4 724.4,224.4 725.6,232.5 723.1,240 720.6,246.9 715,245 706.2,243.8 706.2,236.2"/>
<polygon fill="#002db9" points="723.1,219.4 728.1,217.5 735,218.1 741.9,216 743.1,221.2 743.1,231.2 744,241.2 740.6,246.2 736.9,251.2 731.2,250 720.6,246.9 723.1,240 725.6,232.5 724.4,224.4"/>
<polygon fill="#002db9" points="715.6,265.6 720.6,264.4 727.5,265 734.4,266.2 736,272.5 732.5,278.8 728.8,283.1 725.6,280 720,276.9 716.2,272.5 715,268.8"/>
<polyline points="323.8,308.8 328.8,306.2 346.2,310 350,316.2 346.2,323.8 341.2,327.5 340,333.8"/>
<polyline points="729.5,119 738,115.5"/>
<polyline points="723.8,123.8 716.2,136.8 716.8,143 726.2,144.2 734.2,143 740,137.5 743.8,135 742.5,129.2 733.8,130 731.2,126.8 723.8,123.8"/>
<polyline points="734.2,143 735.5,148 741.2,152.5 746.2,150.5 751.8,150"/>
<polyline points="741.2,152.5 732.5,158.8 725.5,161.2 718,165.5 706.2,169.2 697.5,171.2 690,175"/>
<polyline points="718,165.5 720,175 724.2,185 733,181.8 745,179.2 760,178"/>
<polyline points="724.2,185 710,189.2 697.5,193.8 693,191.2"/>
<polyline points="724.2,185 726.8,195 730,203.8 731.2,212.5 730.5,216.8"/>
<polyline points="734.2,183 738,190 743,195 741.8,206.2 741.8,215.5"/>
<polyline points="741.8,214.2 755,211.8 770,208 775,204.2"/>
<polyline points="770,208 772.5,213.8 770,218.8 766.2,230 780,237.5 786.2,233.8"/>
<polyline points="780,237.5 770,247.5 761.2,255"/>
<polyline points="832.5,457.5 831.2,470 836.2,477.5 838.8,492.5 850,487.5 857.5,482.5"/>
<polyline points="838.8,492.5 840,500 850,505 851.2,520"/>
<polyline points="820,502.5 830,498.8 838.8,493.8"/>
<polyline points="836.2,503.8 833.8,517.5 835,526"/>
<polyline points="336.2,663.8 340,656.2 347.5,652.5 357.5,646.2 365,642.5"/>
<polyline points="408.8,612.5 423.8,611.2 428.8,621.2 426.2,627.5 412.5,630 406.2,627.5"/>
<polyline points="337.5,696.2 336.2,705 340,710 342.5,722.5 345,727.5"/>
<polyline points="331.2,706.2 340,710"/>
<polyline points="625,602.5 630,607.5 640,601.2 650,602.5 652.5,607.5 645,615 635,626.2 625,636.2 617.5,640 615,647 613.8,642.5 602.5,640"/>
<polyline points="678.8,602.5 686.2,607.5 691.2,607.5"/>
<polyline points="837.5,501.2 833.8,510 832.5,522.5 837.5,535.5"/>
<polyline points="837.5,501.2 850,505 852.5,520 857.5,532.5"/>
<polyline points="820,500 830,498.8 840,495"/>
<polyline points="713.8,562.5 717.5,575 721.2,577.5"/>
<polyline points="840,711.2 837.5,720 841.2,725"/>
<polyline points="390,840 405,838.8 418.8,837.5"/>
<polyline points="570,825 577.5,827.5 582.5,817.5 590,820 598.8,813.8 601.2,793.8"/>
<polyline points="598.8,813.8 607.5,822.5 617.5,835"/>
<polyline points="626.2,800 617.5,807.5 621.2,817.5 628.8,823.8"/>
<polyline points="670,761.2 677.5,772.5 680,793.8"/>
<polyline style="stroke:#111;stroke-width:1.6" points="1058.8,730 1063,723.8"/>
<polyline style="stroke:#111;stroke-width:1.6" points="1152.5,816.2 1155.8,808.8"/>
<polyline style="stroke:#111;stroke-width:1.6" points="1048,705.5 1049.5,707.5"/>
<polyline style="stroke:#111;stroke-width:1.6" points="1100.8,745.5 1102.5,750"/>
<polyline style="stroke:#111;stroke-width:1.6" points="1126,765.5 1127.5,768"/>
<polyline style="stroke:#111;stroke-width:1.6" points="1127,779.2 1129,781.2"/>
<polyline style="stroke:#111;stroke-width:1.6" points="746.5,139 749,141.5"/>
<polyline style="stroke:#111;stroke-width:1.6" points="770.8,203.5 774.5,205"/>
<polyline style="stroke:#111;stroke-width:1.6" points="784,233.5 787,235"/>
<polyline style="stroke:#111;stroke-width:1.6" points="855.8,484 859.5,481.2"/>
<polyline style="stroke:#111;stroke-width:1.6" points="876.2,520 880,517.5"/>
<polyline style="stroke:#111;stroke-width:1.6" points="877.5,520 880.5,518"/>
<polyline style="stroke:#111;stroke-width:1.6" points="916.2,578.8 921.2,580.5"/>
<polyline style="stroke:#111;stroke-width:1.6" points="920,584 923,581.5"/>
<polyline style="stroke:#111;stroke-width:1.6" points="947,612 950,613.8"/>
</g>
<!-- gridlines -->
<g stroke="#000" stroke-width="1" fill="none">
<line x1="144.75" y1="35.75" x2="144.75" y2="987.5"/>
<line x1="686.3" y1="35.75" x2="686.3" y2="987.5"/>
<line x1="83.3" y1="103.5" x2="1173.3" y2="103.5"/>
<line x1="83.3" y1="839.4" x2="1173.3" y2="839.4"/>
</g>
<polygon points="589.3,454.4 593.5,467.3 607.1,467.3 596.1,475.3 600.3,488.2 589.3,480.2 578.3,488.2 582.5,475.3 571.5,467.3 585.1,467.3" fill="none" stroke="#000" stroke-width="3.8" stroke-linejoin="miter" stroke-miterlimit="10"/>
<g fill="#000">
<rect x="144.75" y="26.1" width="541.55" height="9.65"/>
<rect x="73.5" y="103.5" width="9.8" height="735.9"/>
<rect x="1173.3" y="103.5" width="9.8" height="735.9"/>
<rect x="144.75" y="987.5" width="541.55" height="9.3"/>
</g>
<g stroke="#000" stroke-width="1.2" fill="none">
<rect x="73.5" y="26.1" width="1109.6" height="970.7"/>
<rect x="83.3" y="35.75" width="1090" height="951.75"/>
<line x1="83.3" y1="26.1" x2="83.3" y2="35.75"/><line x1="73.5" y1="35.75" x2="83.3" y2="35.75"/>
<line x1="1173.3" y1="26.1" x2="1173.3" y2="35.75"/><line x1="1173.3" y1="35.75" x2="1183.1" y2="35.75"/>
<line x1="83.3" y1="987.5" x2="83.3" y2="996.8"/><line x1="73.5" y1="987.5" x2="83.3" y2="987.5"/>
<line x1="1173.3" y1="987.5" x2="1173.3" y2="996.8"/><line x1="1173.3" y1="987.5" x2="1183.1" y2="987.5"/>
</g>
<g font-size="22.7" fill="#000">
<text x="144.7" y="16.3" text-anchor="middle" textLength="63.3" lengthAdjust="spacingAndGlyphs">12°00'</text>
<text x="687.6" y="16.3" text-anchor="middle" textLength="63.3" lengthAdjust="spacingAndGlyphs">13°30'</text>
<text x="144.7" y="1022" text-anchor="middle" textLength="63.3" lengthAdjust="spacingAndGlyphs">12°00'</text>
<text x="687.8" y="1022" text-anchor="middle" textLength="63.3" lengthAdjust="spacingAndGlyphs">13°30'</text>
<text x="0.3" y="111.2" textLength="63.3" lengthAdjust="spacingAndGlyphs">43°30'</text>
<text x="0.3" y="847" textLength="63.3" lengthAdjust="spacingAndGlyphs">42°00'</text>
<text x="1193.4" y="111.2" textLength="63.3" lengthAdjust="spacingAndGlyphs">43°30'</text>
<text x="1193.4" y="847" textLength="63.3" lengthAdjust="spacingAndGlyphs">42°00'</text>
</g>
<g>
<rect x="136.30" y="931.3" width="44.25" height="5.2" fill="#000" stroke="#000" stroke-width="0.8"/>
<rect x="180.55" y="931.3" width="44.25" height="5.2" fill="#fff" stroke="#000" stroke-width="0.8"/>
<rect x="224.80" y="931.3" width="44.25" height="5.2" fill="#000" stroke="#000" stroke-width="0.8"/>
<rect x="269.05" y="931.3" width="44.25" height="5.2" fill="#fff" stroke="#000" stroke-width="0.8"/>
<rect x="313.30" y="931.3" width="44.25" height="5.2" fill="#000" stroke="#000" stroke-width="0.8"/>
<line x1="136.30" y1="931.3" x2="136.30" y2="940.6" stroke="#000" stroke-width="0.8"/>
<line x1="180.55" y1="931.3" x2="180.55" y2="938.5" stroke="#000" stroke-width="0.8"/>
<line x1="224.80" y1="931.3" x2="224.80" y2="938.5" stroke="#000" stroke-width="0.8"/>
<line x1="269.05" y1="931.3" x2="269.05" y2="938.5" stroke="#000" stroke-width="0.8"/>
<line x1="313.30" y1="931.3" x2="313.30" y2="938.5" stroke="#000" stroke-width="0.8"/>
<line x1="357.55" y1="931.3" x2="357.55" y2="940.6" stroke="#000" stroke-width="0.8"/>
<text x="247" y="916.3" font-size="29.5" text-anchor="middle">km</text>
<text x="136.3" y="964.8" font-size="22" text-anchor="middle">0</text>
<text x="357.6" y="964.8" font-size="22" text-anchor="middle">50</text>
</g>
<rect x="773.5" y="46.5" width="382" height="61.8" fill="#fff" stroke="#000" stroke-width="1"/>
<g font-size="12.25" fill="#000">
<text x="778.4" y="59.8" textLength="367.8" lengthAdjust="spacingAndGlyphs">Terremoto del 31-08-2016 15:23:04 (ora locale) Mw=3.3 Prof=11 km</text>
<text x="778.4" y="74.7" textLength="372" lengthAdjust="spacingAndGlyphs">Mappa preliminare delle intensità macrosismiche stimate nei comuni</text>
<text x="778.4" y="89.6" textLength="376" lengthAdjust="spacingAndGlyphs">Dati non verificati estratti da 349 questionari compilati tramite Internet.</text>
<text x="778.4" y="104.6" textLength="288.5" lengthAdjust="spacingAndGlyphs">Ultimo aggiornamento: 19-12-2025 14:39 (ora locale)</text>
</g>
<g>
<rect x="1054.5" y="171.5" width="99" height="472.8" fill="#fff" stroke="#000" stroke-width="1"/>
<g font-size="12.2" font-weight="bold" text-anchor="middle" fill="#000">
<text x="1104" y="188" textLength="37.5" lengthAdjust="spacingAndGlyphs">Scala</text>
<text x="1104" y="204.2" textLength="56.5" lengthAdjust="spacingAndGlyphs">Mercalli</text>
<text x="1104" y="220.3" textLength="42.5" lengthAdjust="spacingAndGlyphs">(MCS)</text>
</g>
<rect x="1075.2" y="229.4" width="57.8" height="18.8" fill="#a9a9a9" stroke="#222" stroke-width="1"/>
<text x="1104" y="242.4" font-size="11.5" font-weight="bold" text-anchor="middle" fill="#fff" textLength="34" lengthAdjust="spacingAndGlyphs">n.a.*</text>
<rect x="1075.2" y="253.5" width="57.8" height="18.8" fill="#4f69b1" stroke="#222" stroke-width="1"/>
<text x="1104" y="266.5" font-size="11.5" font-weight="bold" text-anchor="middle" fill="#fff" textLength="9" lengthAdjust="spacingAndGlyphs">II</text>
<rect x="1075.2" y="277.6" width="57.8" height="18.8" fill="#002db9" stroke="#222" stroke-width="1"/>
<text x="1104" y="290.6" font-size="11.5" font-weight="bold" text-anchor="middle" fill="#fff" textLength="13" lengthAdjust="spacingAndGlyphs">III</text>
<rect x="1075.2" y="301.7" width="57.8" height="18.8" fill="#0066d5" stroke="#222" stroke-width="1"/>
<text x="1104" y="314.7" font-size="11.5" font-weight="bold" text-anchor="middle" fill="#fff" textLength="33" lengthAdjust="spacingAndGlyphs">III-IV</text>
<rect x="1075.2" y="325.8" width="57.8" height="18.8" fill="#0a9ce8" stroke="#222" stroke-width="1"/>
<text x="1104" y="338.8" font-size="11.5" font-weight="bold" text-anchor="middle" fill="#fff" textLength="15" lengthAdjust="spacingAndGlyphs">IV</text>
<rect x="1075.2" y="349.9" width="57.8" height="18.8" fill="#00cc77" stroke="#222" stroke-width="1"/>
<text x="1104" y="362.9" font-size="11.5" font-weight="bold" text-anchor="middle" fill="#000" textLength="27" lengthAdjust="spacingAndGlyphs">IV-V</text>
<rect x="1075.2" y="374.0" width="57.8" height="18.8" fill="#00ee11" stroke="#222" stroke-width="1"/>
<text x="1104" y="387.0" font-size="11.5" font-weight="bold" text-anchor="middle" fill="#000" textLength="9.5" lengthAdjust="spacingAndGlyphs">V</text>
<rect x="1075.2" y="398.1" width="57.8" height="18.8" fill="#bbf600" stroke="#222" stroke-width="1"/>
<text x="1104" y="411.1" font-size="11.5" font-weight="bold" text-anchor="middle" fill="#000" textLength="27" lengthAdjust="spacingAndGlyphs">V-VI</text>
<rect x="1075.2" y="422.2" width="57.8" height="18.8" fill="#fff200" stroke="#222" stroke-width="1"/>
<text x="1104" y="435.2" font-size="11.5" font-weight="bold" text-anchor="middle" fill="#000" textLength="15" lengthAdjust="spacingAndGlyphs">VI</text>
<rect x="1075.2" y="446.3" width="57.8" height="18.8" fill="#ffcc00" stroke="#222" stroke-width="1"/>
<text x="1104" y="459.3" font-size="11.5" font-weight="bold" text-anchor="middle" fill="#000" textLength="37" lengthAdjust="spacingAndGlyphs">VI-VII</text>
<rect x="1075.2" y="470.4" width="57.8" height="18.8" fill="#ffa500" stroke="#222" stroke-width="1"/>
<text x="1104" y="483.4" font-size="11.5" font-weight="bold" text-anchor="middle" fill="#000" textLength="19" lengthAdjust="spacingAndGlyphs">VII</text>
<rect x="1075.2" y="494.5" width="57.8" height="18.8" fill="#ff7700" stroke="#222" stroke-width="1"/>
<text x="1104" y="507.5" font-size="11.5" font-weight="bold" text-anchor="middle" fill="#000" textLength="47" lengthAdjust="spacingAndGlyphs">VII-VIII</text>
<rect x="1075.2" y="518.6" width="57.8" height="18.8" fill="#ff1111" stroke="#222" stroke-width="1"/>
<text x="1104" y="531.6" font-size="11.5" font-weight="bold" text-anchor="middle" fill="#000" textLength="23" lengthAdjust="spacingAndGlyphs">VIII</text>
<text x="1105" y="558" font-size="12" text-anchor="middle" textLength="91.5" lengthAdjust="spacingAndGlyphs" fill="#111">*non avvertito</text>
<line x1="1053" y1="568" x2="1152" y2="568" stroke="#000" stroke-width="1" stroke-dasharray="2,2"/>
<text x="1103.5" y="584" font-size="12.2" font-weight="bold" text-anchor="middle" textLength="67.5" lengthAdjust="spacingAndGlyphs">Epicentro</text>
<text x="1103.5" y="600" font-size="12.2" font-weight="bold" text-anchor="middle" textLength="87.6" lengthAdjust="spacingAndGlyphs">strumentale</text>
<polygon points="1101.5,613.8 1103.5,619.9 1109.9,619.9 1104.7,623.6 1106.7,629.7 1101.5,626.0 1096.3,629.7 1098.3,623.6 1093.1,619.9 1099.5,619.9" fill="#fff" stroke="#000" stroke-width="1" stroke-linejoin="miter"/>
</g>
<defs>
<radialGradient id="gl" cx="0.35" cy="0.3" r="0.8"><stop offset="0" stop-color="#3fb0cf"/><stop offset="0.55" stop-color="#1a80aa"/><stop offset="1" stop-color="#0a4f78"/></radialGradient>
<radialGradient id="sh" cx="0.4" cy="0.35" r="0.75"><stop offset="0.6" stop-color="#000" stop-opacity="0"/><stop offset="1" stop-color="#000" stop-opacity="0.28"/></radialGradient>
<clipPath id="gc"><circle cx="131.9" cy="78.1" r="30"/></clipPath>
</defs>
<g clip-path="url(#gc)">
<circle cx="131.9" cy="78.1" r="30" fill="url(#gl)"/>
<polygon fill="#cdbfd3" points="135.0,61.2 140.0,49.4 150.0,52.5 158.8,62.5 162.5,75.0 161.2,87.5 153.8,98.8 147.5,105.0 131.9,108.8"/>
<polygon fill="#2c9a3a" points="135.0,61.2 140.6,49.4 150.0,53.8 151.9,56.9 145.0,57.5 138.1,60.0"/>
<polygon fill="#e30f2c" points="135.0,61.2 138.1,60.0 145.0,57.5 151.9,56.9 151.2,64.4 146.2,63.1 140.0,62.5"/>
<polygon fill="#2c9a3a" points="140.0,62.5 146.2,63.1 151.2,64.4 153.8,68.1 148.8,71.9 145.0,67.5"/>
<polygon fill="#f2e21a" points="135.0,61.2 140.0,62.5 145.0,67.5 148.8,71.9 146.2,73.1 140.0,73.8 135.0,75.0"/>
<polygon fill="#eadf1c" points="148.8,71.9 153.8,68.1 158.8,72.5 160.0,77.5 155.0,82.5 151.2,83.8 149.4,77.5"/>
<polygon fill="#e30f2c" points="135.0,75.0 140.0,73.8 146.2,73.1 149.4,77.5 151.2,83.8 147.5,86.2 141.2,88.1 134.4,88.8"/>
<polygon fill="#1f9a3a" points="134.4,88.8 141.2,88.1 147.5,86.2 151.2,83.8 153.8,96.2 147.5,104.4 140.0,107.5 131.9,108.8"/>
<polygon fill="#e30f2c" points="153.8,94.4 157.8,92.8 155.2,97.8"/>
<polygon fill="#2c9a3a" points="160.0,73.1 161.9,71.9 162.2,76.2 161.0,76.5"/>
<g fill="none" stroke="#fff" stroke-width="0.55" stroke-opacity="0.9">
<path d="M135.0 61.2 Q133.8 85.0 131.9 108.1"/>
<path d="M135.0 61.2 Q118.8 65.0 101.9 76.9"/>
<path d="M135.0 61.2 Q122.5 75.0 113.1 101.9"/>
<path d="M135.0 61.2 Q132.5 53.8 128.1 48.1"/>
<path d="M135.0 61.2 Q125.0 55.0 113.8 53.8"/>
<path d="M135.0 61.2 Q147.5 70.0 153.8 96.2"/>
<path d="M135.0 61.2 Q146.2 58.8 158.8 62.5"/>
<path d="M135.0 61.2 Q140.0 55.0 142.5 50.0"/>
<path d="M118.8 58.1 Q118.8 73.8 135.0 75.0"/>
<path d="M108.1 63.1 Q110.0 87.5 134.4 89.0"/>
<path d="M103.1 81.2 Q112.5 100.0 132.5 102.5"/>
<path d="M118.8 58.1 Q125.0 50.0 136.2 52.5"/>
<path d="M135.0 75.0 Q146.2 73.8 151.9 56.9"/>
<path d="M134.4 89.0 Q152.5 86.2 160.0 77.5"/>
</g>
<circle cx="131.9" cy="78.1" r="30" fill="url(#sh)"/>
</g>
<g font-size="12" font-weight="bold" fill="#4a4a4a">
<text x="170" y="74.6" textLength="88.8" lengthAdjust="spacingAndGlyphs">ISTITUTO NAZIONALE</text>
<text x="170" y="89.1" textLength="135.2" lengthAdjust="spacingAndGlyphs">DI GEOFISICA E VULCANOLOGIA</text>
</g>
<g>
<circle cx="1096.8" cy="916.2" r="33.3" fill="#1e1e1e"/>
<circle cx="1096.8" cy="916.2" r="19.2" fill="none" stroke="#e2081c" stroke-width="6.4"/>
<circle cx="1096.8" cy="916.2" r="8" fill="#e2081c"/>
<defs><linearGradient id="wg" x1="0" x2="1" y1="0" y2="0"><stop offset="0" stop-color="#1473c8"/><stop offset="1" stop-color="#0a96e0"/></linearGradient></defs>
<path d="M1102.2 912 L1128.5 901 Q1132.3 900 1132.4 904 L1132.6 930.5 Q1132.4 934.5 1128.5 933.2 L1102.2 921.5 Q1105.6 916.5 1102.2 912 Z" fill="url(#wg)"/>
<path d="M1102.2 921.5 L1128.5 933.2 Q1132.4 934.5 1132.6 930.5 L1132.6 927.5 Q1131.5 930.5 1128 929.5 L1104 919 Z" fill="#0f63b0"/>
<circle cx="1145.6" cy="916.3" r="10.3" fill="#e2081c"/>
<text transform="translate(1145.6 916.3) rotate(90)" x="0" y="6" font-size="17" font-weight="bold" fill="#fff" text-anchor="middle">?</text>
<path id="tp" d="M1129.89 936.08 A38.6 38.6 0 1 1 1134.56 908.17" fill="none"/>
<text font-size="23" textLength="204" lengthAdjust="spacingAndGlyphs"><textPath href="#tp" startOffset="0"><tspan fill="#e2081c">www.</tspan><tspan fill="#111">hai</tspan><tspan fill="#111" font-weight="bold">sentito</tspan><tspan fill="#111" font-style="italic">il</tspan><tspan fill="#111" font-weight="bold">terremoto</tspan><tspan fill="#e2081c" font-weight="bold">.it</tspan></textPath></text>
</g>
</svg></body></html>
